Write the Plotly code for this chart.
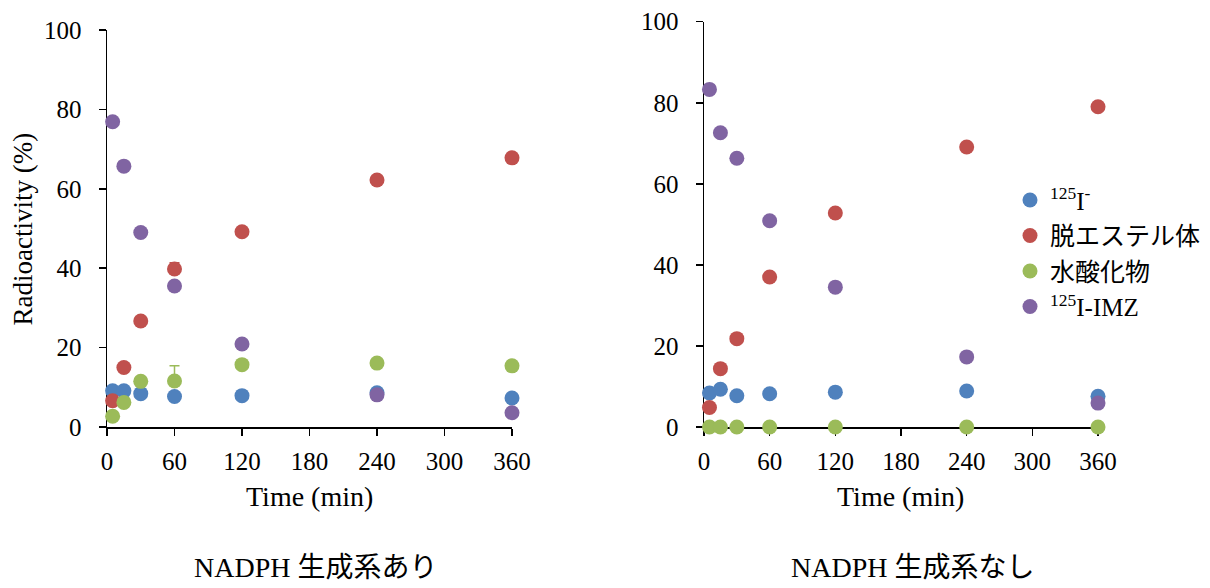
import plotly.graph_objects as go

W, H = 1210, 588

times = [5, 15, 30, 60, 120, 240, 360]
series_names = ["<sup>125</sup>I<sup>-</sup>", "脱エステル体", "水酸化物", "<sup>125</sup>I-IMZ"]
colors = ["#4F81BD", "#C0504D", "#9BBB59", "#8064A2"]

# NADPH 生成系あり (left)
left_iodide = [9.1, 9.1, 8.4, 7.7, 7.9, 8.6, 7.3]
left_deester = [6.6, 15.0, 26.7, 39.8, 49.2, 62.2, 67.8]
left_hydroxy = [2.7, 6.2, 11.5, 11.6, 15.7, 16.1, 15.4]
left_imz = [76.9, 65.7, 49.0, 35.5, 20.9, 8.1, 3.6]
left_deester_err = [0, 0, 0, 1.6, 0, 0, 0]
left_hydroxy_err = [0, 0, 0, 3.8, 0, 0, 0]
no_err = [0, 0, 0, 0, 0, 0, 0]

# NADPH 生成系なし (right)
right_iodide = [8.4, 9.3, 7.7, 8.2, 8.6, 8.9, 7.6]
right_deester = [4.8, 14.4, 21.8, 37.0, 52.8, 69.1, 79.0]
right_hydroxy = [0, 0, 0, 0, 0, 0, 0]
right_imz = [83.3, 72.6, 66.3, 50.9, 34.5, 17.3, 5.9]

x_ticks = [0, 60, 120, 180, 240, 300, 360]
y_ticks = [0, 20, 40, 60, 80, 100]

FONT = "Liberation Serif, Noto Sans CJK JP, serif"

fig = go.Figure()

left_vals = [left_iodide, left_deester, left_hydroxy, left_imz]
left_errs = [None, left_deester_err, left_hydroxy_err, None]
right_vals = [right_iodide, right_deester, right_hydroxy, right_imz]

for i in range(4):
    err = None
    if left_errs[i] is not None:
        err = dict(type="data", array=left_errs[i], arrayminus=no_err, symmetric=False,
                   visible=True, color=colors[i], thickness=1.5, width=5)
    fig.add_trace(go.Scatter(
        x=times, y=left_vals[i], mode="markers", name=series_names[i],
        marker=dict(size=15, color=colors[i]), error_y=err,
        showlegend=False, xaxis="x", yaxis="y", cliponaxis=False))

for i in range(4):
    fig.add_trace(go.Scatter(
        x=times, y=right_vals[i], mode="markers", name=series_names[i],
        marker=dict(size=15, color=colors[i]),
        showlegend=True, xaxis="x2", yaxis="y2", cliponaxis=False))

def px_x(p):
    return p / W

def px_y(p):
    return 1 - p / H

axis_common = dict(
    showline=True, linecolor="black", linewidth=1.5,
    ticks="outside", ticklen=7, tickwidth=1.5, tickcolor="black",
    showgrid=False, zeroline=False, layer="below traces",
    tickfont=dict(family=FONT, size=25, color="black"),
)

fig.update_layout(
    width=W, height=H,
    margin=dict(l=0, r=0, t=0, b=0, autoexpand=False),
    paper_bgcolor="white", plot_bgcolor="white",
    font=dict(family=FONT, color="black"),
    xaxis=dict(domain=[px_x(107), px_x(512)], range=[0, 360], tickvals=x_ticks,
               anchor="y", ticklabelstandoff=4, automargin=False, **axis_common),
    yaxis=dict(domain=[px_y(427), px_y(30)], range=[0, 100], tickvals=y_ticks,
               anchor="x", ticklabelstandoff=12, automargin=False, **axis_common),
    xaxis2=dict(domain=[px_x(704), px_x(1098)], range=[0, 360], tickvals=x_ticks,
                anchor="y2", ticklabelstandoff=4, automargin=False, **axis_common),
    yaxis2=dict(domain=[px_y(427), px_y(21.7)], range=[0, 100], tickvals=y_ticks,
                anchor="x2", ticklabelstandoff=12, automargin=False, **axis_common),
    legend=dict(x=px_x(1010), y=px_y(253.3), xanchor="left", yanchor="middle",
                font=dict(family=FONT, size=25, color="black"),
                bgcolor="rgba(0,0,0,0)", tracegroupgap=0),
    annotations=[
        dict(text="Radioactivity (%)", x=px_x(22.5), y=px_y(229), xref="paper", yref="paper",
             textangle=-90, showarrow=False, xanchor="center", yanchor="middle",
             font=dict(family=FONT, size=27, color="black")),
        dict(text="Time (min)", x=px_x(309.5), y=px_y(496), xref="paper", yref="paper",
             showarrow=False, xanchor="center", yanchor="middle",
             font=dict(family=FONT, size=28, color="black")),
        dict(text="Time (min)", x=px_x(900), y=px_y(496), xref="paper", yref="paper",
             showarrow=False, xanchor="center", yanchor="middle",
             font=dict(family=FONT, size=28, color="black")),
        dict(text="NADPH 生成系あり", x=px_x(315.7), y=px_y(567), xref="paper", yref="paper",
             showarrow=False, xanchor="center", yanchor="middle",
             font=dict(family=FONT, size=28, color="black")),
        dict(text="NADPH 生成系なし", x=px_x(912.5), y=px_y(567), xref="paper", yref="paper",
             showarrow=False, xanchor="center", yanchor="middle",
             font=dict(family=FONT, size=28, color="black")),
    ],
)

html = fig.to_html(include_plotlyjs=True, full_html=True,
                   config={"displayModeBar": False, "staticPlot": True})
html = html.replace("<head>", "<head><style>html,body{margin:0;padding:0;overflow:hidden;}</style>", 1)
with open("out.html", "w", encoding="utf-8") as f:
    f.write(html)
